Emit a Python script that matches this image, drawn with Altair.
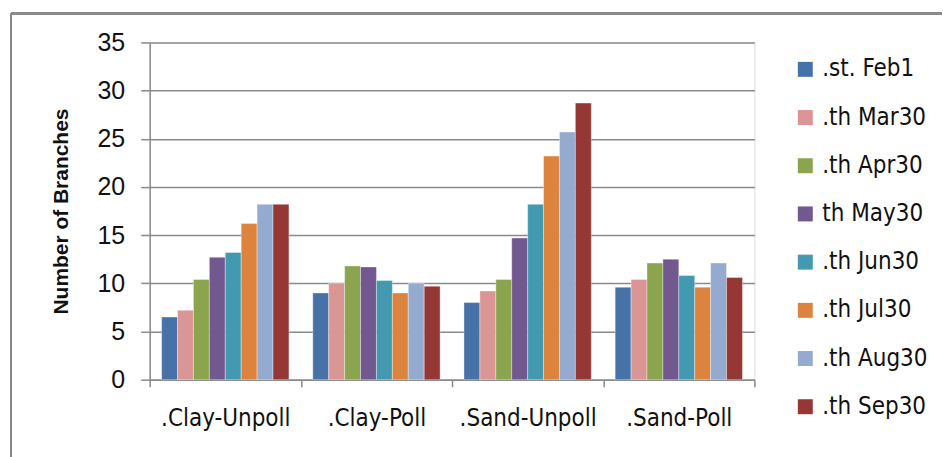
import altair as alt
import pandas as pd

categories = [".Clay-Unpoll", ".Clay-Poll", ".Sand-Unpoll", ".Sand-Poll"]
series = [".st. Feb1", ".th Mar30", ".th Apr30", "th May30", ".th Jun30", ".th Jul30", ".th Aug30", ".th Sep30"]
colors = ["#4672A8", "#DA9694", "#8AA54E", "#71588F", "#4299B0", "#DC843E", "#94AACF", "#953735"]

clay_unpoll = [6.5, 7.2, 10.4, 12.7, 13.2, 16.2, 18.2, 18.2]
clay_poll = [9.0, 10.0, 11.8, 11.7, 10.3, 9.0, 10.0, 9.7]
sand_unpoll = [8.0, 9.2, 10.4, 14.7, 18.2, 23.2, 25.7, 28.7]
sand_poll = [9.6, 10.4, 12.1, 12.5, 10.8, 9.6, 12.1, 10.6]

rows = []
for cat, vals in zip(categories, [clay_unpoll, clay_poll, sand_unpoll, sand_poll]):
    for s, v in zip(series, vals):
        rows.append({"cat": cat, "series": s, "value": v})
df = pd.DataFrame(rows)

W, H = 606, 338
GRAY = "#8a8a8a"
NARROW = "Liberation Sans Narrow, Arial Narrow, DejaVu Sans Condensed, sans-serif"
ARIAL = "Liberation Sans, Arial, sans-serif"

bars = alt.Chart(df).mark_bar(stroke="white", strokeWidth=0.6, strokeOpacity=0.6).encode(
    x=alt.X("cat:N", sort=categories,
            scale=alt.Scale(paddingInner=0, paddingOuter=0),
            axis=alt.Axis(title=None, labelAngle=0, tickBand="extent", tickSize=7,
                          tickColor=GRAY, tickWidth=1.5, domainColor=GRAY, domainWidth=1.5,
                          labelFont=NARROW, labelFontSize=24, labelColor="#111",
                          labelPadding=20)),
    xOffset=alt.XOffset("series:N", sort=series,
                        scale=alt.Scale(paddingInner=0, paddingOuter=0.75)),
    y=alt.Y("value:Q", scale=alt.Scale(domain=[0, 35]),
            axis=alt.Axis(title="Number of Branches", values=list(range(0, 36, 5)),
                          tickSize=9, tickColor=GRAY, tickWidth=1.5,
                          domainColor=GRAY, domainWidth=1.5,
                          gridColor=GRAY, gridWidth=1.5,
                          labelFont=ARIAL, labelFontSize=25,
                          labelColor="#111", labelPadding=16,
                          titleFont=ARIAL, titleFontSize=21,
                          titleFontWeight="bold", titleColor="#111", titlePadding=26)),
    color=alt.Color("series:N", sort=series,
                    scale=alt.Scale(domain=series, range=colors),
                    legend=alt.Legend(title=None, orient="none", legendX=645, legendY=15,
                                      symbolType="square", symbolSize=225,
                                      symbolStrokeWidth=0, labelFont=NARROW,
                                      labelFontSize=24, labelColor="#111",
                                      rowPadding=24.3, labelOffset=5, padding=0)),
)

frame_top = alt.Chart(df).mark_rule(color=GRAY, strokeWidth=1.5).encode(
    x=alt.value(-139), x2=alt.value(794), y=alt.value(-29))
frame_left = alt.Chart(df).mark_rule(color=GRAY, strokeWidth=1.5).encode(
    x=alt.value(-139), y=alt.value(-29), y2=alt.value(416))

chart = alt.layer(frame_top, frame_left, bars).properties(
    width=W, height=H, padding={"left": 10, "top": 12, "right": 0, "bottom": 0}
).configure_view(stroke=None).configure(background="white")

chart.save("out.html", embed_options={"renderer": "svg", "actions": False})
